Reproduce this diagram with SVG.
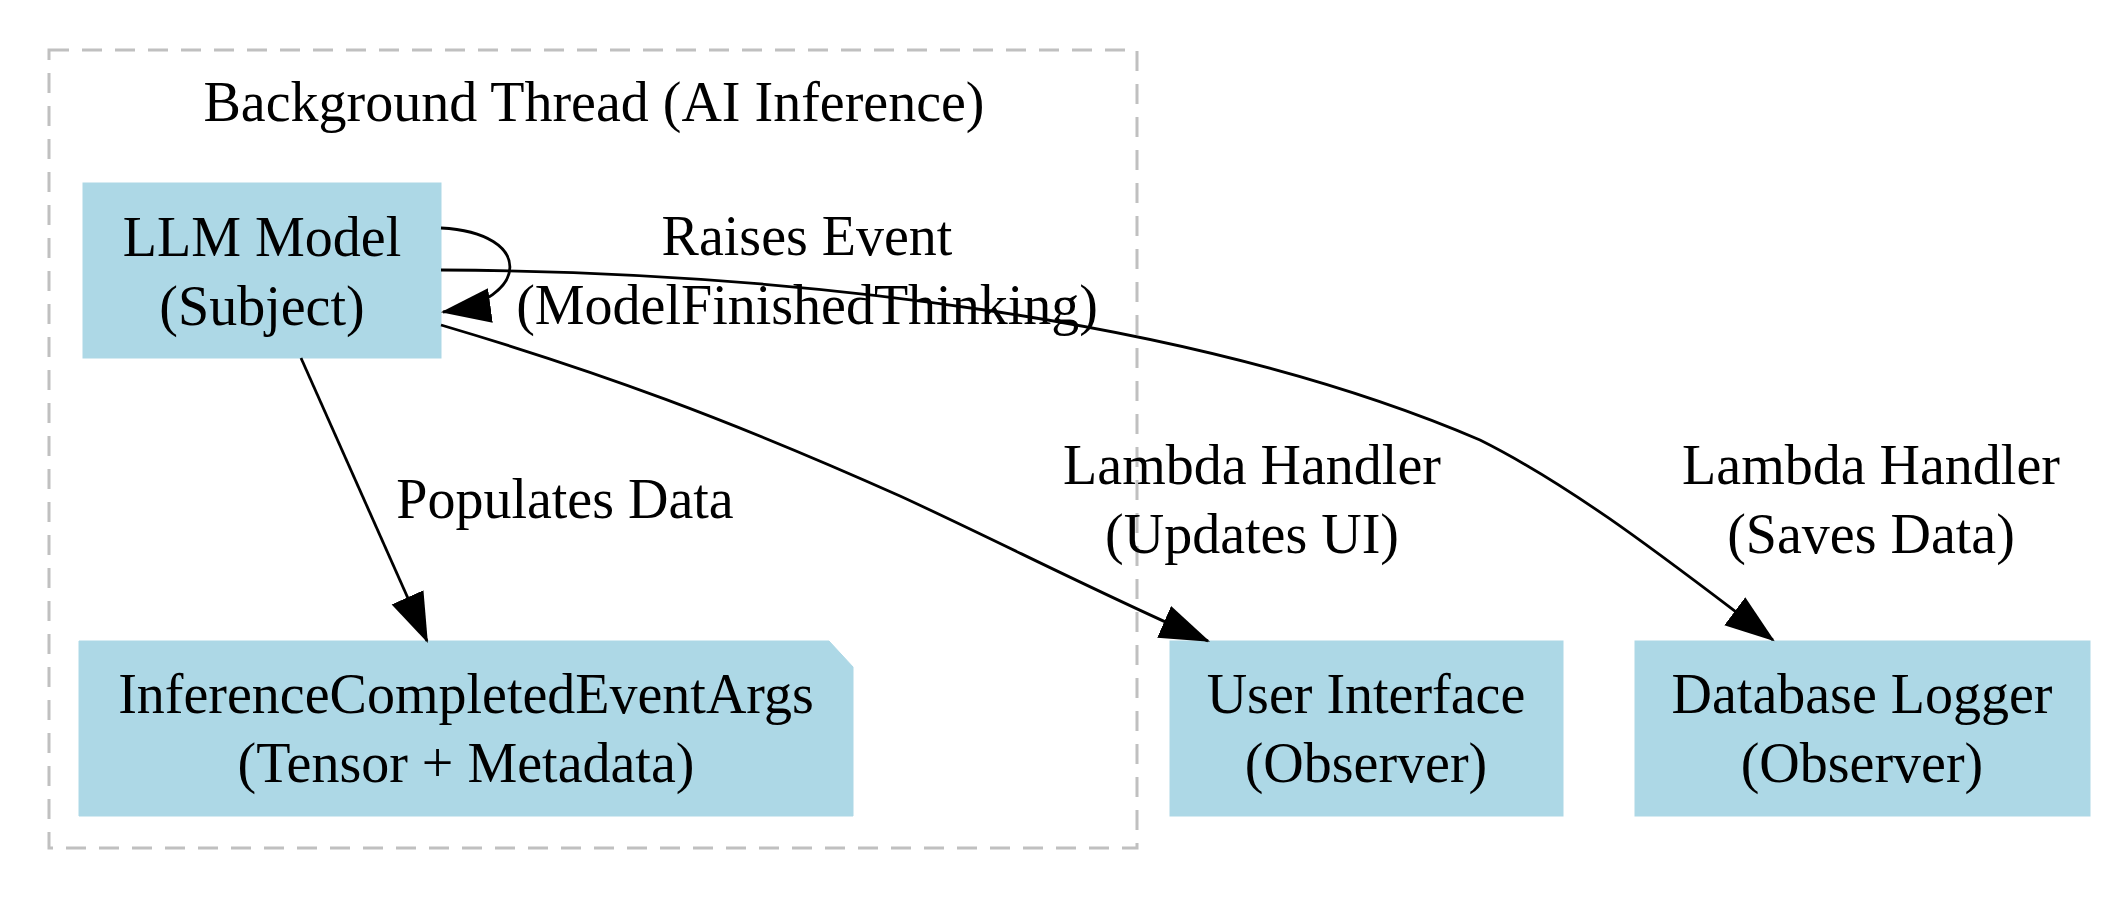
<svg xmlns="http://www.w3.org/2000/svg" width="2105" height="898" viewBox="0 0 2105 898">
<style>
text{font-family:"Liberation Serif","Times New Roman",serif;font-size:56px;fill:#000;text-anchor:middle}
.node{fill:#add8e6;stroke:#add8e6;stroke-width:1}
.edge{fill:none;stroke:#000;stroke-width:2.8}
</style>
<defs>
<marker id="ah" markerUnits="userSpaceOnUse" markerWidth="50" markerHeight="40" viewBox="0 0 46 32" refX="44" refY="16" orient="auto">
<path d="M0,0 L46,16 L0,32 Z" fill="#000"/>
</marker>
</defs>
<rect x="49" y="50" width="1088" height="798" fill="none" stroke="#c0c0c0" stroke-width="3" stroke-dasharray="20,13"/>
<text x="594" y="121">Background Thread (AI Inference)</text>
<g id="llm"><rect class="node" x="83" y="183" width="358" height="175"/><text x="262" y="256">LLM Model</text><text x="262" y="325">(Subject)</text></g>
<g id="args"><path class="node" d="M79,641 H829 L853,667 V816 H79 Z"/><text x="466" y="713">InferenceCompletedEventArgs</text><text x="466" y="782">(Tensor + Metadata)</text></g>
<g id="ui"><rect class="node" x="1170" y="641" width="393" height="175"/><text x="1366" y="713">User Interface</text><text x="1366" y="782">(Observer)</text></g>
<g id="db"><rect class="node" x="1635" y="641" width="455" height="175"/><text x="1862" y="713">Database Logger</text><text x="1862" y="782">(Observer)</text></g>
<g id="edges">
<path class="edge" d="M441,228 C535,233 530,300 443,312" marker-end="url(#ah)"/>
<path class="edge" d="M301,358 L427,641" marker-end="url(#ah)"/>
<path class="edge" d="M441,325 C600,372 730,420 900,496 C1000,542 1100,594 1208,641" marker-end="url(#ah)"/>
<path class="edge" d="M441,270 C800,272 1200,320 1480,440 C1580,490 1680,570 1773,640" marker-end="url(#ah)"/>
<text x="807" y="255">Raises Event</text>
<text x="807" y="324">(ModelFinishedThinking)</text>
<text x="565" y="518">Populates Data</text>
<text x="1252" y="484">Lambda Handler</text>
<text x="1252" y="553">(Updates UI)</text>
<text x="1871" y="484">Lambda Handler</text>
<text x="1871" y="553">(Saves Data)</text>
</g>
</svg>
